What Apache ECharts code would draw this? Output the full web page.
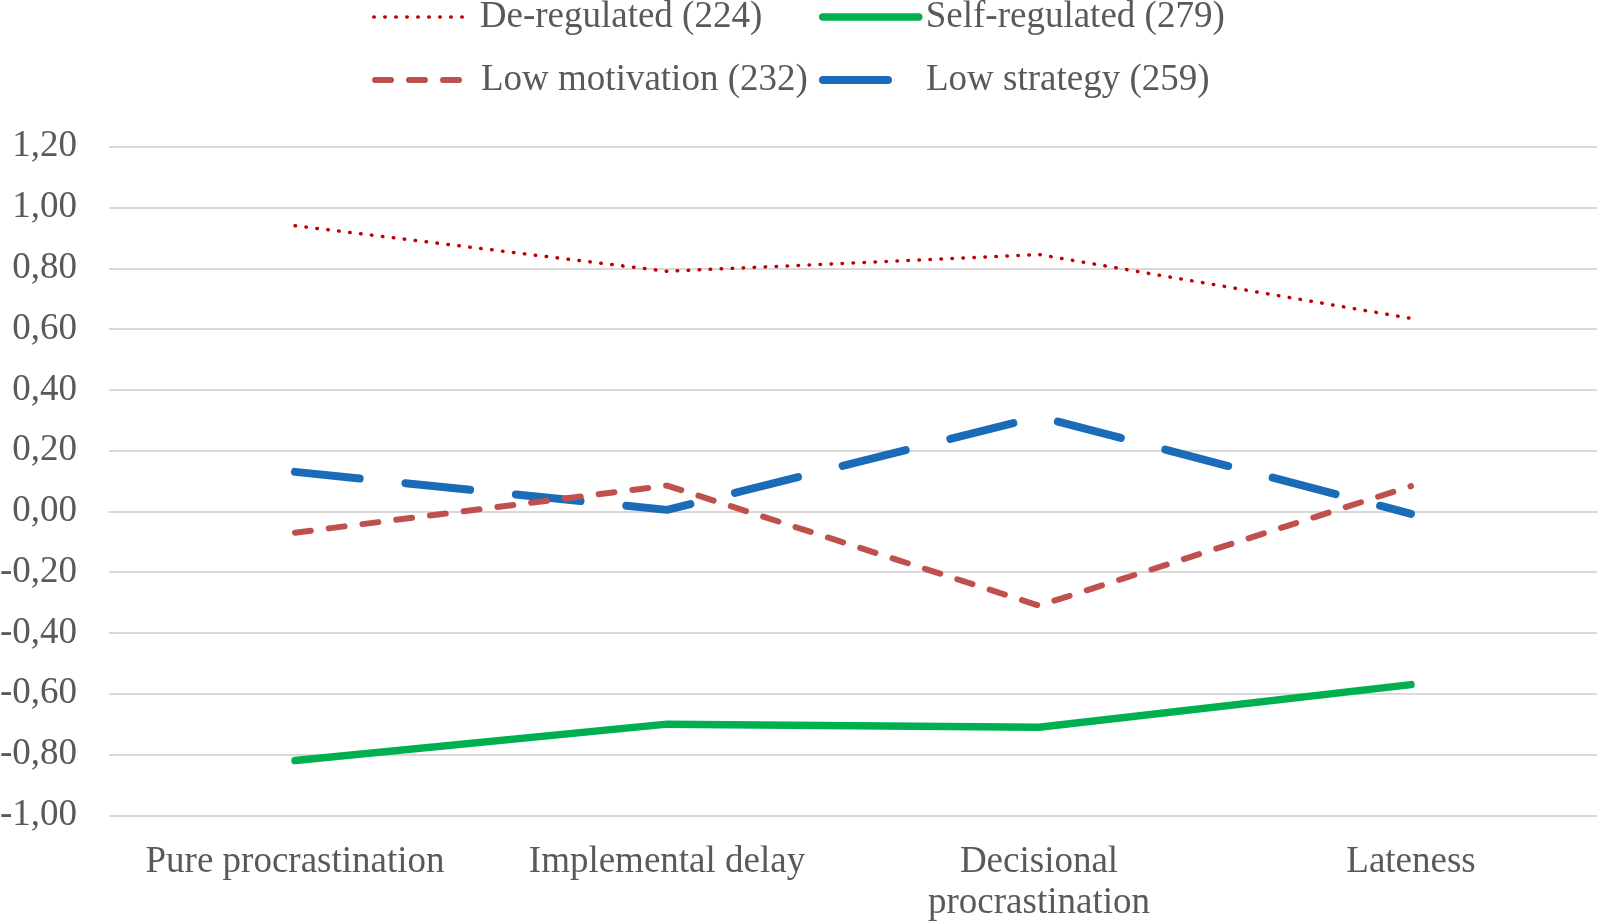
<!DOCTYPE html>
<html>
<head>
<meta charset="utf-8">
<script src="https://cdn.jsdelivr.net/npm/echarts@6/dist/echarts.min.js"></script>
<style>html,body{margin:0;padding:0;background:#fff}#c{width:1600px;height:921px}</style>
</head>
<body>
<div id="c"></div>
<script>
const categories = ['Pure procrastination', 'Implemental delay', 'Decisional\nprocrastination', 'Lateness'];
const deRegulated = [0.94, 0.79, 0.845, 0.635];
const selfRegulated = [-0.82, -0.70, -0.71, -0.57];
const lowMotivation = [-0.07, 0.085, -0.31, 0.083];
const lowStrategy = [0.13, 0.005, 0.312, -0.008];
const seriesNames = ['De-regulated (224)', 'Self-regulated (279)', 'Low motivation (232)', 'Low strategy (259)'];

const font = 'Liberation Serif';
const txt = '#595959';
const FS = 37;
const colors = ['#C00000', '#00B050', '#C0504D', '#1A6BB8'];
const styles = [
  { width: 3.5, type: [0.5, 10.5] },
  { width: 7.5, type: 'solid' },
  { width: 6, type: [16, 18] },
  { width: 8, type: [65, 46] }
];
const chart = echarts.init(document.getElementById('c'));

function legend(i, left, top, pad) {
  return {
    data: [seriesNames[i]], left: left, top: top, orient: 'horizontal',
    itemWidth: 96, itemHeight: 14, padding: 0,
    itemStyle: { opacity: 0 },
    lineStyle: { color: colors[i], width: styles[i].width, type: styles[i].type, cap: 'round', dashOffset: 0 },
    textStyle: { fontFamily: font, fontSize: FS, color: txt, lineHeight: 38, padding: [0, 0, 0, pad] },
    selectedMode: false
  };
}

chart.setOption({
  animation: false,
  backgroundColor: '#fff',
  legend: [legend(0, 372, -2, 5), legend(1, 819, -2, 2), legend(2, 372, 61, 5), legend(3, 819, 61, 2)],
  grid: { left: 109, right: 3, top: 146.7, bottom: 105.7, containLabel: false, outerBoundsMode: 'none' },
  xAxis: {
    type: 'category', data: categories, boundaryGap: true,
    axisLine: { show: true, lineStyle: { color: '#d9d9d9', width: 2 } },
    axisTick: { show: false },
    axisLabel: { fontFamily: font, fontSize: FS, color: txt, margin: 26, lineHeight: 41, interval: 0 }
  },
  yAxis: {
    type: 'value', min: -1, max: 1.2, interval: 0.2,
    axisLine: { show: false }, axisTick: { show: false },
    splitLine: { lineStyle: { color: '#d9d9d9', width: 2 } },
    axisLabel: {
      fontFamily: font, fontSize: FS, color: txt, margin: 32,
      formatter: v => (Math.round(v * 100) / 100).toFixed(2).replace('.', ',')
    }
  },
  series: [deRegulated, selfRegulated, lowMotivation, lowStrategy].map((d, i) => ({
    name: seriesNames[i], type: 'line', data: d, symbol: 'none', z: [4, 3, 5, 4][i],
    lineStyle: { color: colors[i], width: styles[i].width, type: styles[i].type, cap: 'round', join: 'round' },
    itemStyle: { color: colors[i] }
  }))
});
</script>
</body>
</html>
